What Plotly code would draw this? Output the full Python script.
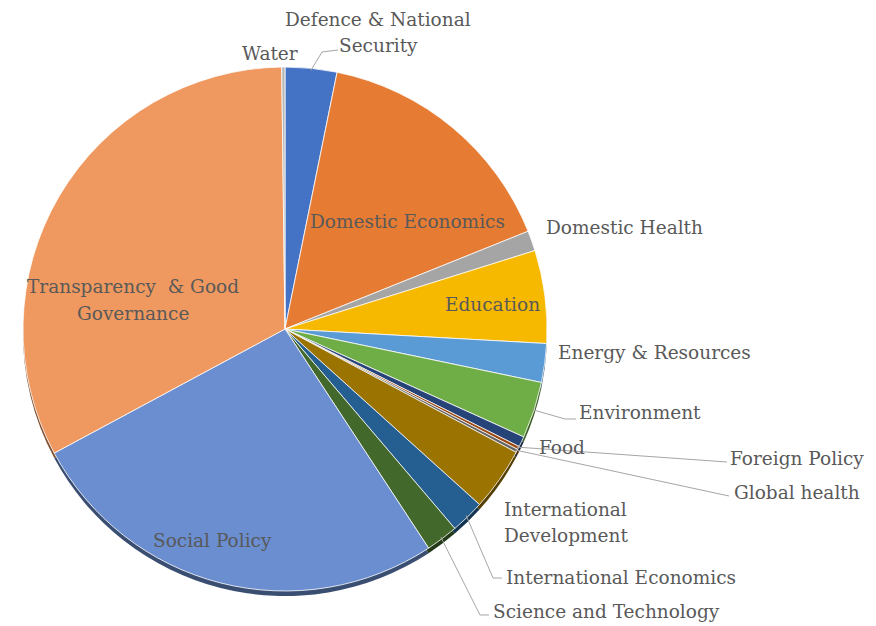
import math
import plotly.graph_objects as go

# Share of items by policy area (percent), clockwise from 12 o'clock
areas = [
    "Defence & National Security", "Domestic Economics", "Domestic Health",
    "Education", "Energy & Resources", "Environment", "Food", "Foreign Policy",
    "Global health", "International Development", "International Economics",
    "Science and Technology", "Social Policy", "Transparency & Good Governance",
    "Water",
]
shares = [3.2, 15.8, 1.25, 5.75, 2.4, 3.5, 0.65, 0.2, 0.2, 3.9, 2.1, 2.0, 26.5, 32.8, 0.2]
colors = [
    "#4472C4", "#E67C34", "#A5A5A5", "#F7B900", "#5B9BD5", "#6FAD47", "#264478",
    "#9E480E", "#636363", "#9A7300", "#255E91", "#43682B", "#6A8ED0", "#EF9960",
    "#B7B7B7",
]

W, H = 876, 626
CX, CY, R = 285, 329, 262  # pie centre and radius in pixels


def darker(hex_color, k=0.55):
    r, g, b = (int(hex_color[i:i + 2], 16) for i in (1, 3, 5))
    return "rgb(%d,%d,%d)" % (r * k, g * k, b * k)


def px(x):
    return x / W


def py(y):
    return 1 - y / H


def pie_domain(dy=0):
    return dict(
        x=[px(CX - R), px(CX + R)],
        y=[py(CY + dy + R), py(CY + dy - R)],
    )


fig = go.Figure()

# Thin darker rim under the pie
fig.add_trace(go.Pie(
    labels=areas, values=shares, sort=False, direction="clockwise", rotation=0,
    marker=dict(colors=[darker(c) for c in colors], line=dict(width=0)),
    textinfo="none", hoverinfo="skip", showlegend=False, domain=pie_domain(5),
))

fig.add_trace(go.Pie(
    labels=areas, values=shares, sort=False, direction="clockwise", rotation=0,
    marker=dict(colors=colors, line=dict(color="rgba(255,255,255,0.8)", width=1)),
    textinfo="none", showlegend=False, domain=pie_domain(0),
))

# Mid-angle of every slice (degrees clockwise from the top)
total = sum(shares)
mid = {}
acc = 0.0
for name, v in zip(areas, shares):
    mid[name] = (acc + v / 2) / total * 360
    acc += v


def edge_point(name, rr=R):
    a = math.radians(mid[name])
    return CX + rr * math.sin(a), CY - rr * math.cos(a)


FONT = dict(family="DejaVu Serif", size=18.5, color="#595959")

# label text, pixel position, x anchor
labels = [
    ("Water", 270, 53, "center"),
    ("Defence & National", 378, 19, "center"),
    ("Security", 378, 46, "center"),
    ("Domestic Economics", 407, 221, "center"),
    ("Domestic Health", 544, 227, "left"),
    ("Education", 493, 304, "center"),
    ("Energy & Resources", 556, 352, "left"),
    ("Environment", 577, 412, "left"),
    ("Food", 537, 447, "left"),
    ("Foreign Policy", 728, 458, "left"),
    ("Global health", 732, 492, "left"),
    ("International", 502, 509, "left"),
    ("Development", 502, 535, "left"),
    ("International Economics", 504, 577, "left"),
    ("Science and Technology", 491, 611, "left"),
    ("Transparency  & Good", 133, 286, "center"),
    ("Governance", 133, 313, "center"),
    ("Social Policy", 212, 540, "center"),
]
for text, x, y, anchor in labels:
    fig.add_annotation(
        x=px(x), y=py(y), xref="paper", yref="paper", text=text, showarrow=False,
        xanchor=anchor, yanchor="middle", font=FONT,
    )

# Leader lines: from the slice edge to the label
leaders = [
    ("Defence & National Security", [(322, 52), (338, 50)]),
    ("Environment", [(565, 419), (576, 419)]),
    ("Foreign Policy", [(727, 462)]),
    ("Global health", [(729, 496)]),
    ("International Economics", [(493, 578), (502, 578)]),
    ("Science and Technology", [(480, 615), (489, 615)]),
]
for name, pts in leaders:
    x0, y0 = edge_point(name, R - 2)
    path = "M %f,%f " % (px(x0), py(y0)) + " ".join(
        "L %f,%f" % (px(x), py(y)) for x, y in pts)
    fig.add_shape(type="path", path=path, xref="paper", yref="paper",
                  line=dict(color="#A6A6A6", width=1))

fig.update_layout(
    width=W, height=H, margin=dict(l=0, r=0, t=0, b=0),
    paper_bgcolor="white", plot_bgcolor="white",
)

fig.write_html("out.html")
